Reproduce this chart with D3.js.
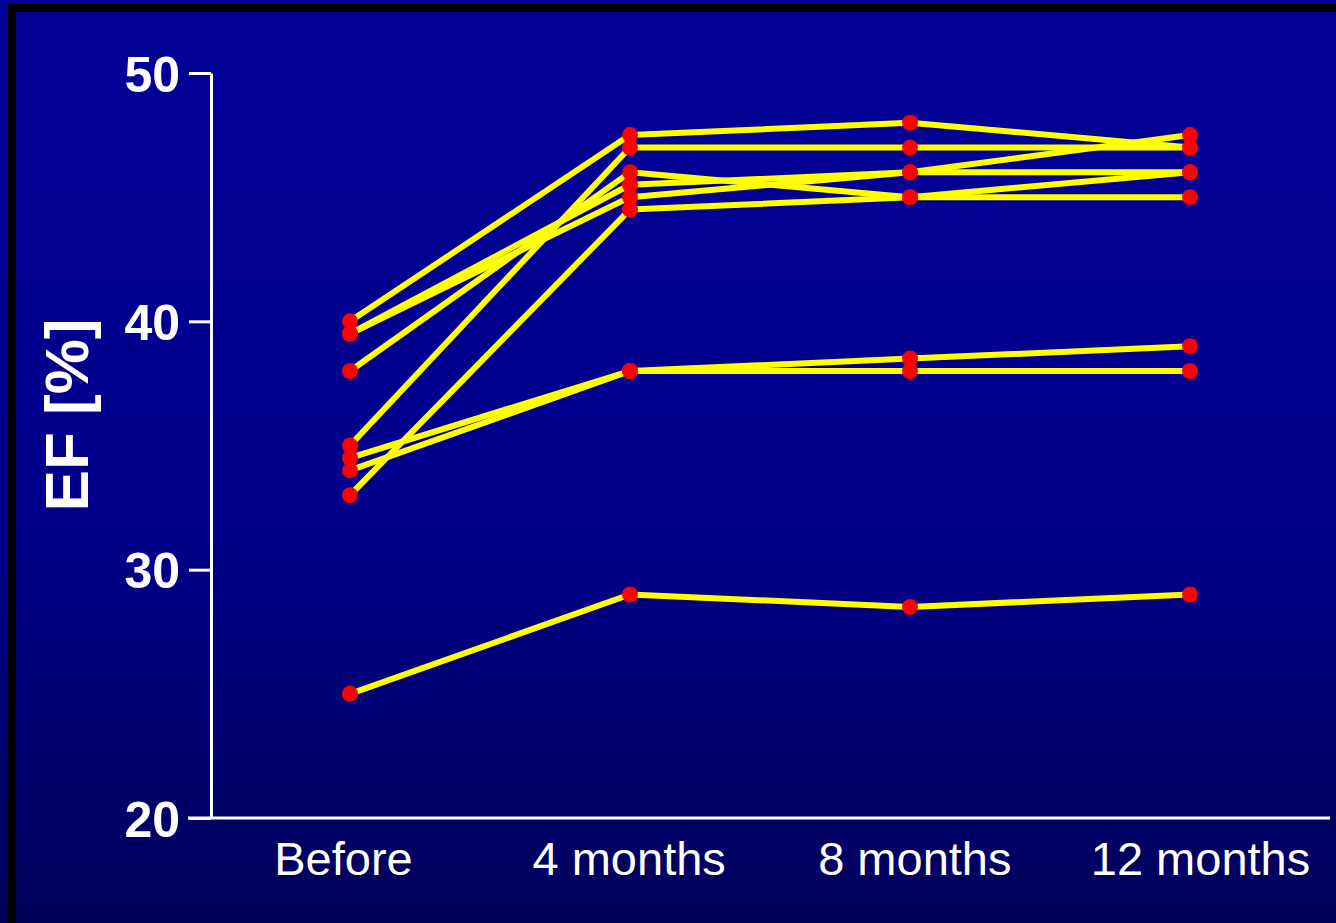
<!DOCTYPE html>
<html>
<head>
<script src="https://d3js.org/d3.v7.min.js"></script>
<style>
  body { margin: 0; background: #000090; }
  text { font-family: "Liberation Sans", Arial, sans-serif; fill: #fff; }
</style>
</head>
<body>
<script>
// time points and EF values per patient (percent)
var timepoints = ["Before", "4 months", "8 months", "12 months"];
var yTicks = [20, 30, 40, 50];
var patient1 = [40, 47.5, 48, 47];
var patient2 = [39.5, 45.5, 46, 47.5];
var patient3 = [39.5, 45, 46, 46];
var patient4 = [38, 46, 45, 45];
var patient5 = [35, 47, 47, 47];
var patient6 = [33, 44.5, 45, 46];
var patient7 = [34.5, 38, 38.5, 39];
var patient8 = [34, 38, 38, 38];
var patient9 = [25, 29, 28.5, 29];
var patients = [patient1, patient2, patient3, patient4, patient5, patient6, patient7, patient8, patient9];

var width = 1336, height = 923;

var svg = d3.select("body").append("svg")
  .attr("width", width)
  .attr("height", height);

// background gradient
var grad = svg.append("defs").append("linearGradient")
  .attr("id", "bg").attr("x1", 0).attr("y1", 0).attr("x2", 0).attr("y2", 1);
grad.append("stop").attr("offset", "0%").attr("stop-color", "#000096");
grad.append("stop").attr("offset", "55%").attr("stop-color", "#00008c");
grad.append("stop").attr("offset", "100%").attr("stop-color", "#00005a");

svg.append("rect").attr("width", width).attr("height", height).attr("fill", "url(#bg)");

// black frame on left and top
svg.append("rect").attr("x", 8).attr("y", 4).attr("width", 8).attr("height", height).attr("fill", "#000");
svg.append("rect").attr("x", 8).attr("y", 4).attr("width", width).attr("height", 8).attr("fill", "#000");

var x = d3.scalePoint().domain(timepoints).range([350, 1190]);
var xLabel = d3.scalePoint().domain(timepoints).range([343, 1200]);
var y = d3.scaleLinear().domain([20, 50]).range([818, 73]);

// y axis
var yAxis = svg.append("g")
  .attr("transform", "translate(211,0)")
  .call(d3.axisLeft(y).tickValues(yTicks).tickSize(22).tickSizeOuter(0).tickPadding(9));
yAxis.select(".domain").attr("stroke", "#fff").attr("stroke-width", 3);
yAxis.selectAll(".tick line").attr("stroke", "#fff").attr("stroke-width", 3);
yAxis.selectAll(".tick text")
  .attr("dy", "0.36em")
  .style("font-size", "50px")
  .style("font-weight", "bold")
  .attr("fill", "#fff");

// x axis line
svg.append("line")
  .attr("x1", 188).attr("x2", 1330)
  .attr("y1", y(20)).attr("y2", y(20))
  .attr("stroke", "#fff").attr("stroke-width", 3);

// x labels
var xAxis = svg.append("g")
  .attr("transform", "translate(0," + y(20) + ")")
  .call(d3.axisBottom(xLabel).tickSize(0).tickPadding(24));
xAxis.select(".domain").remove();
xAxis.selectAll(".tick text")
  .style("font-size", "47px")
  .attr("dy", "0.71em")
  .attr("fill", "#fff");

// y title
svg.append("text")
  .attr("transform", "translate(88,415) rotate(-90)")
  .attr("text-anchor", "middle")
  .style("font-size", "62px")
  .style("font-weight", "bold")
  .text("EF [%]");

var line = d3.line()
  .x(function(d, i) { return x(timepoints[i]); })
  .y(function(d) { return y(d); });

svg.selectAll(".patient")
  .data(patients)
  .enter()
  .append("path")
  .attr("class", "patient")
  .attr("d", line)
  .attr("fill", "none")
  .attr("stroke", "#ffff00")
  .attr("stroke-width", 6)
  .attr("stroke-linejoin", "round");

var dots = [];
patients.forEach(function(p) {
  p.forEach(function(v, i) { dots.push({t: timepoints[i], v: v}); });
});

svg.selectAll(".dot")
  .data(dots)
  .enter()
  .append("circle")
  .attr("class", "dot")
  .attr("cx", function(d) { return x(d.t); })
  .attr("cy", function(d) { return y(d.v); })
  .attr("r", 8)
  .attr("fill", "#ff0000");
</script>
</body>
</html>
